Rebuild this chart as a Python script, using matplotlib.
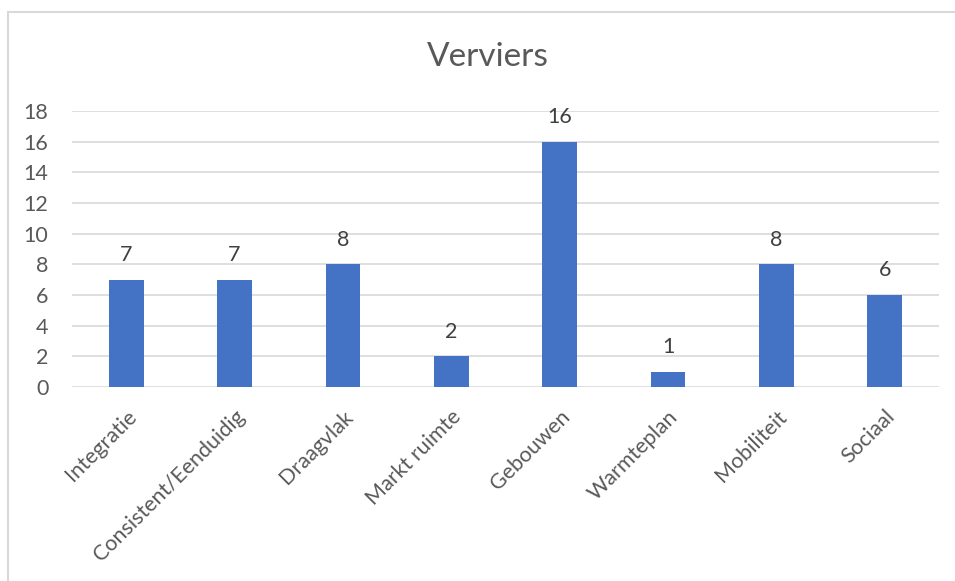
import matplotlib.pyplot as plt
import numpy as np
from matplotlib.patches import Rectangle

categories = ['Integratie', 'Consistent/Eenduidig', 'Draagvlak', 'Markt ruimte',
              'Gebouwen', 'Warmteplan', 'Mobiliteit', 'Sociaal']
values = [7, 7, 8, 2, 16, 1, 8, 6]
yticks = [0, 2, 4, 6, 8, 10, 12, 14, 16, 18]

plt.rcParams['font.family'] = ['Lato', 'DejaVu Sans']

fig = plt.figure(figsize=(9.55, 5.81), dpi=100)
ax = fig.add_axes([72/955, 1-387/581, (939-72)/955, (387-111)/581])

# chart frame (cut off at right and bottom like the reference)
fig.patches.append(Rectangle((8/955, -0.1), 1.2, 1-12/581+0.1, transform=fig.transFigure,
                             fill=False, edgecolor='#d9d9d9', linewidth=1.5))

x = np.arange(len(categories))
bars = ax.bar(x, values, width=0.32, color='#4472c4', zorder=3)

for xi, v in zip(x, values):
    ax.text(xi, v + 1.6, str(v), ha='center', va='center', fontsize=15.5, color='#404040')

ax.set_xlim(-0.5, len(categories) - 0.5)
ax.set_ylim(0, 18)
ax.set_yticks(yticks)
ax.set_yticklabels([str(t) for t in yticks], fontsize=15.5, color='#595959')
ax.set_xticks(x)
ax.set_xticklabels(categories, rotation=45, ha='right', rotation_mode='anchor',
                   fontsize=15.5, color='#595959')
ax.tick_params(length=0)
ax.tick_params(axis='y', pad=17)
ax.tick_params(axis='x', pad=14)
ax.grid(axis='y', color='#d9d9d9', linewidth=1.2, zorder=0)
for s in ax.spines.values():
    s.set_visible(False)

fig.text(0.511, 0.902, 'Verviers', ha='center', va='center', fontsize=24, color='#595959')

fig.savefig('out.png', dpi=100)
